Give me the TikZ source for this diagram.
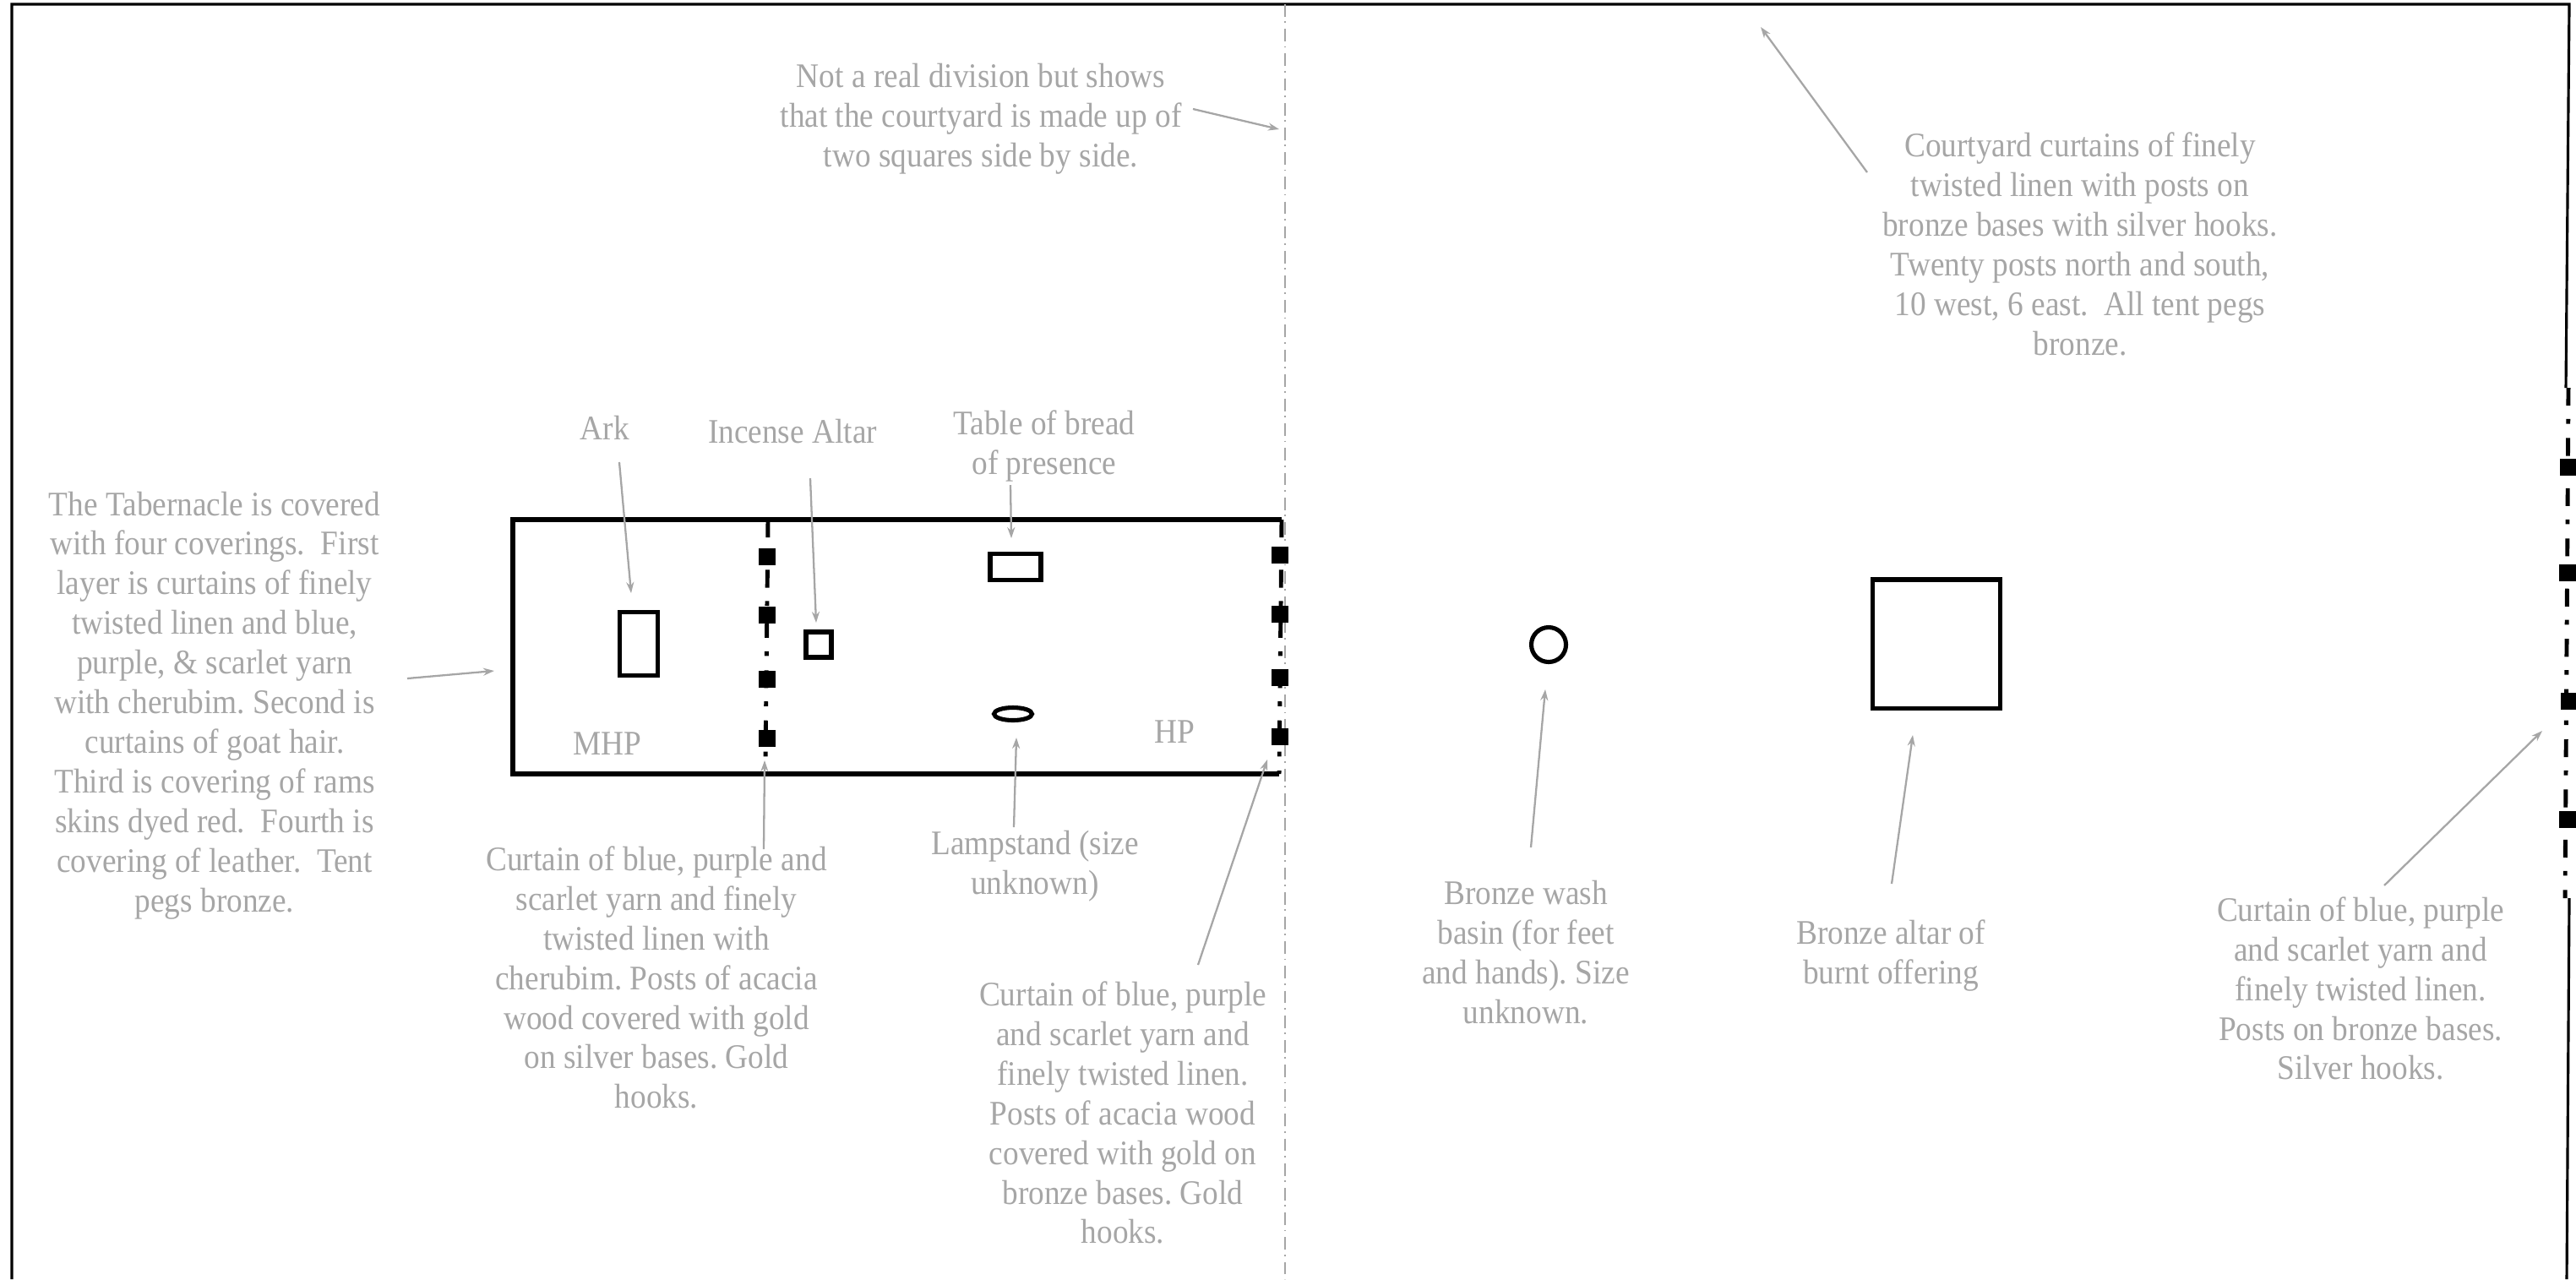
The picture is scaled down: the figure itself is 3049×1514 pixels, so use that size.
\documentclass[tikz,border=0pt]{standalone}
\usepackage{fontspec}
\setmainfont[FakeStretch=0.915]{Liberation Serif}
\usetikzlibrary{arrows.meta,positioning,calc,shapes.geometric}
\definecolor{notegray}{RGB}{166,166,166}
\tikzset{note/.style={text=notegray,align=center,font=\fontsize{11.6}{13.35}\selectfont\frenchspacing,inner sep=0pt},
  pointer/.style={-{Stealth[length=1.3mm,width=0.9mm]},notegray,line width=0.65pt},
  outline/.style={black,line width=0.9pt},
  wall/.style={black,line width=1.45pt},
  item/.style={draw=black,line width=1.45pt,inner sep=0pt},
  curtain/.style={black,line width=1.4pt,dash pattern=on 6pt off 4.5pt on 1.6pt off 4.8pt},
  post/.style={fill=black,inner sep=0pt,minimum width=0.2cm,minimum height=0.2cm},
  axisline/.style={notegray,line width=0.6pt,dash pattern=on 4.2pt off 1.6pt on 0.5pt off 2pt}}
\begin{document}
\begin{tikzpicture}[x=0.01cm,y=-0.01cm]
\useasboundingbox (0,0) rectangle (3049,1514);
% courtyard outline
\coordinate (oa) at (14,1514);
\coordinate (ob) at (14,5);
\coordinate (oc) at (3041,5);
\coordinate (od) at (3037,459);
\coordinate (oe) at (3041,1063);
\coordinate (of) at (3038,1514);
\draw[outline] (oa)--(ob)--(oc)--(od);
\draw[outline] (oe)--(of);
% middle line
\coordinate (ma) at (1521,5);
\coordinate (mb) at (1521,1514);
\draw[axisline] (ma)--(mb);
% tent
\coordinate (ta) at (1517,615);
\coordinate (tb) at (607,615);
\coordinate (tc) at (607,916);
\coordinate (td) at (1514,916);
\draw[wall] (ta)--(tb)--(tc)--(td);
\coordinate (va) at (909,615);
\coordinate (vb) at (906,900);
\draw[curtain] (va)--(vb);
\draw[curtain] (ta)--(td);
\foreach \px/\py [count=\i] in {908/659,908/728,908/804,908/874}
  \node[post] (p\i) at (\px,\py) {};
\foreach \px/\py [count=\i] in {1515/657,1515/727,1515/802,1515/872}
  \node[post] (q\i) at (\px,\py) {};
% east curtain
\coordinate (ea) at (3040,459);
\coordinate (eb) at (3036,1063);
\draw[curtain] (ea)--(eb);
\foreach \px/\py [count=\i] in {3040/553,3039/678,3041/830,3039/970}
  \node[post] (e\i) at (\px,\py) {};
% furniture
\node[item,minimum width=0.45cm,minimum height=0.75cm] (ark) at (756,762) {};
\node[item,minimum width=0.30cm,minimum height=0.30cm] (altar) at (969,763) {};
\node[item,minimum width=0.60cm,minimum height=0.31cm] (bread) at (1202,671) {};
\node[item,ellipse,minimum width=0.45cm,minimum height=0.15cm] (lamp) at (1199,845) {};
\node[item,circle,minimum size=0.41cm] (basin) at (1833,763) {};
\node[item,minimum width=1.51cm,minimum height=1.52cm] (bronze) at (2292,762) {};
% labels
\node[note] (lblArk) at (716,506) {Ark};
\node[note] (lblAltar) at (938,511) {Incense Altar};
\node[note] (lblTable) at (1236,528) {Table of bread\\of presence};
\node[note] (lblMhp) at (719,880) {MHP};
\node[note] (lblHp) at (1390,866) {HP};
\node[note] (lblLamp) at (1225,1025) {Lampstand (size\\unknown)};
\node[note] (lblDiv) at (1161,141) {Not a real division but shows\\that the courtyard is made up of\\two squares side by side.};
\node[note] (lblYard) at (2462,289) {Courtyard curtains of finely\\twisted linen with posts on\\bronze bases with silver hooks.\\Twenty posts north and south,\\10 west, 6 east.~ All tent pegs\\bronze.};
\node[note] (lblCover) at (254,835) {The Tabernacle is covered\\with four coverings.~ First\\layer is curtains of finely\\twisted linen and blue,\\purple, \& scarlet yarn\\with cherubim. Second is\\curtains of goat hair.\\Third is covering of rams\\skins dyed red.~ Fourth is\\covering of leather.~ Tent\\pegs bronze.};
\node[note] (lblInner) at (777,1157) {Curtain of blue, purple and\\scarlet yarn and finely\\twisted linen with\\cherubim. Posts of acacia\\wood covered with gold\\on silver bases. Gold\\hooks.};
\node[note] (lblOuter) at (1329,1317) {Curtain of blue, purple\\and scarlet yarn and\\finely twisted linen.\\Posts of acacia wood\\covered with gold on\\bronze bases. Gold\\hooks.};
\node[note] (lblBasin) at (1806,1127) {Bronze wash\\basin (for feet\\and hands). Size\\unknown.};
\node[note] (lblBronze) at (2238,1131) {Bronze altar of\\burnt offering};
\node[note] (lblGate) at (2794,1170) {Curtain of blue, purple\\and scarlet yarn and\\finely twisted linen.\\Posts on bronze bases.\\Silver hooks.};
% pointers
\coordinate (tailDiv) at (1412,129);
\coordinate (tipDiv) at (1514,153);
\draw[pointer] (tailDiv)--(tipDiv);
\coordinate (tailYard) at (2210,204);
\coordinate (tipYard) at (2084,32);
\draw[pointer] (tailYard)--(tipYard);
\coordinate (tailCover) at (482,803);
\coordinate (tipCover) at (585,794);
\draw[pointer] (tailCover)--(tipCover);
\coordinate (tailArk) at (733,547);
\coordinate (tipArk) at (747,702);
\draw[pointer] (tailArk)--(tipArk);
\coordinate (tailAltar) at (959,566);
\coordinate (tipAltar) at (966,737);
\draw[pointer] (tailAltar)--(tipAltar);
\coordinate (tailTable) at (1196,574);
\coordinate (tipTable) at (1197,637);
\draw[pointer] (tailTable)--(tipTable);
\coordinate (tailLamp) at (1200,979);
\coordinate (tipLamp) at (1203,873);
\draw[pointer] (tailLamp)--(tipLamp);
\coordinate (tailInner) at (904,1005);
\coordinate (tipInner) at (905,900);
\draw[pointer] (tailInner)--(tipInner);
\coordinate (tailOuter) at (1418,1142);
\coordinate (tipOuter) at (1500,899);
\draw[pointer] (tailOuter)--(tipOuter);
\coordinate (tailBasin) at (1812,1003);
\coordinate (tipBasin) at (1829,816);
\draw[pointer] (tailBasin)--(tipBasin);
\coordinate (tailBronze) at (2239,1046);
\coordinate (tipBronze) at (2264,870);
\draw[pointer] (tailBronze)--(tipBronze);
\coordinate (tailGate) at (2822,1048);
\coordinate (tipGate) at (3009,865);
\draw[pointer] (tailGate)--(tipGate);
\end{tikzpicture}
\end{document}
